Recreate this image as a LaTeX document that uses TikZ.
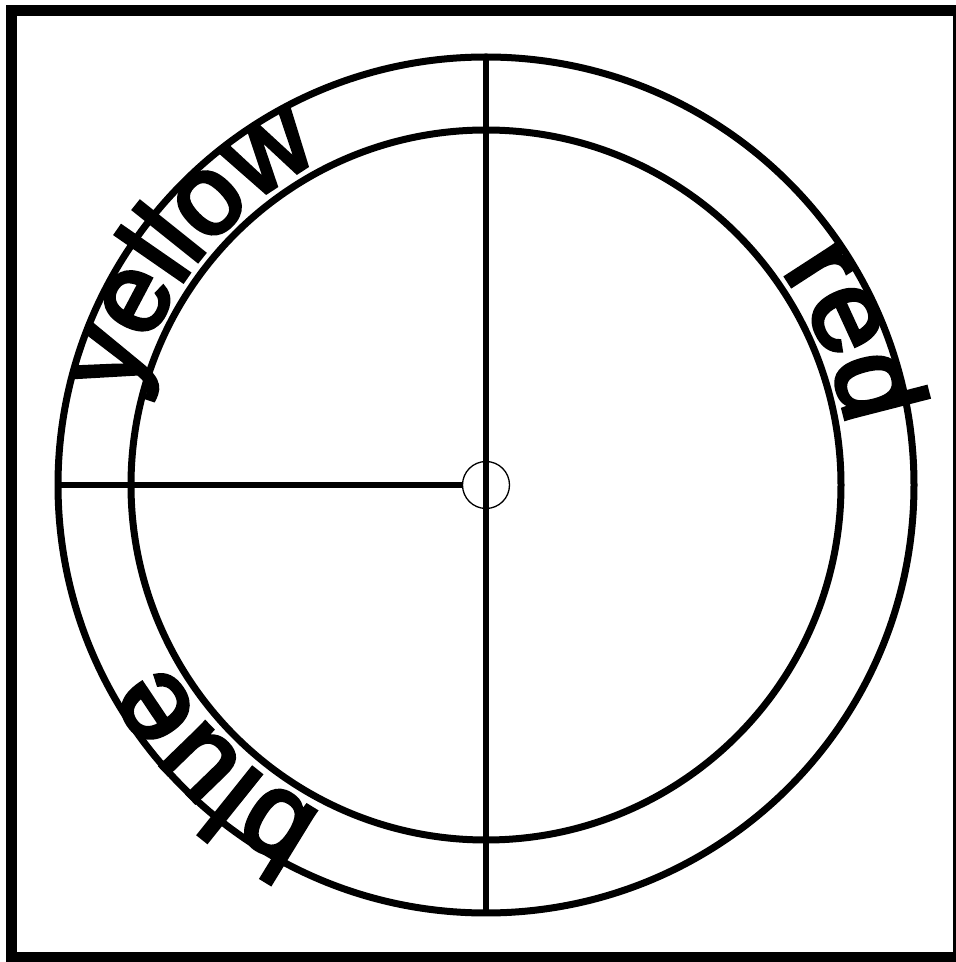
\documentclass[tikz,border=0pt]{standalone}
\usepackage{fontspec}
\newfontfamily\ringfont{Liberation Sans}[FakeBold=3.5]
\usetikzlibrary{decorations.text,calc}
\begin{document}
\begin{tikzpicture}[x=1pt,y=1pt,
  ring/.style={circle, draw, outer sep=0pt, inner sep=0pt, line width=7pt},
  spoke/.style={line width=5.5pt},
  frame/.style={line width=11pt},
  word/.style 2 args={decorate, decoration={text along path, text={|\ringfont\fontsize{#2}{120}\selectfont|#1}}}
]
\useasboundingbox (0,0) rectangle (956,962);
\clip (0,0) rectangle (956,962);
\draw[frame] (11.5,4.5) rectangle (958.5,951.5);
\coordinate (c) at (486,477);
\node[ring, minimum size=856pt] (outer) at (c) {};
\node[ring, minimum size=710pt] (inner) at (c) {};
\node[circle, draw, line width=1.3pt, minimum size=47pt, inner sep=0pt, outer sep=0pt] (hub) at (c) {};
\draw[spoke] (outer.north) -- (outer.south);
\draw[spoke] (outer.west) -- (hub.west);
\path[word={yellow}{113}] ($(c)+(166:365pt)$) arc[start angle=166, end angle=100, radius=365pt];
\path[word={red}{118}] ($(c)+(36:365pt)$) arc[start angle=36, end angle=-5, radius=365pt];
\path[word={blue}{118}] ($(c)+(243.6:367pt)$) arc[start angle=243.6, end angle=195, radius=367pt];
\end{tikzpicture}
\end{document}
